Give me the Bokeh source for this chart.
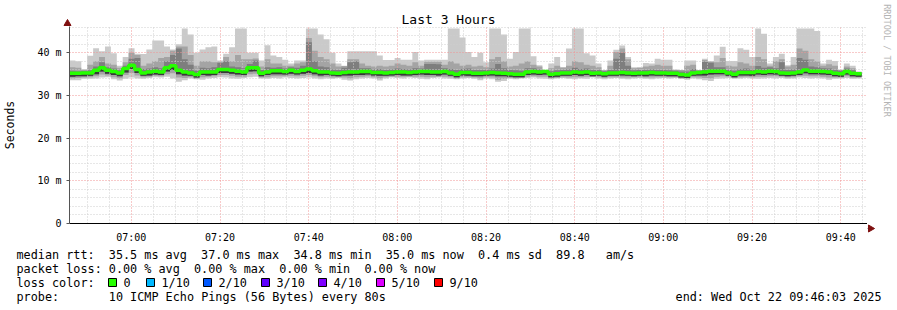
import numpy as np
from bokeh.plotting import figure
from bokeh.models import Range1d, FixedTicker
from bokeh.layouts import column, row
from bokeh.embed import file_html
from bokeh.resources import INLINE
from bokeh.core.properties import value

# ---------------- data ----------------
START_MIN = 6 * 60 + 46 + 3 / 60.0      # 06:46:03, minutes since midnight
STEP_MIN = 80 / 60.0                     # one probe every 80 s
SPAN_MIN = 180.0                         # last 3 hours

med = [35.2, 35.2, 35.3, 35.3, 35.9, 36.5, 35.9, 35.6, 35.3, 36.3,
       37.1, 36.1, 35.3, 35.5, 35.7, 35.5, 36.5, 37.0, 35.9, 35.5,
       35.3, 34.9, 35.5, 35.5, 35.5, 36.1, 36.1, 35.9, 35.7, 35.5,
       36.5, 36.5, 35.2, 35.5, 35.8, 35.8, 35.6, 35.9, 35.6, 35.9,
       36.2, 35.8, 35.5, 35.5, 35.3, 35.2, 35.4, 35.5, 35.5, 35.6,
       35.6, 35.4, 35.4, 35.3, 35.4, 35.5, 35.5, 35.4, 35.5, 35.6,
       35.6, 35.5, 35.5, 35.6, 35.3, 35.0, 35.4, 35.4, 35.2, 35.2,
       35.3, 35.4, 35.3, 35.2, 35.1, 35.0, 35.0, 35.5, 35.6, 35.5,
       35.6, 35.0, 35.1, 35.3, 35.3, 35.5, 35.4, 35.5, 35.2, 35.3,
       35.1, 35.3, 35.3, 35.4, 35.3, 35.2, 35.3, 35.3, 35.4, 35.3,
       35.3, 35.2, 35.2, 34.9, 34.8, 35.3, 35.4, 35.5, 35.7, 35.7,
       35.7, 35.3, 35.0, 35.4, 35.4, 35.4, 35.6, 35.5, 35.7, 35.6,
       35.3, 35.2, 35.3, 35.5, 36.0, 35.7, 35.7, 35.6, 35.5, 35.2,
       35.1, 35.6, 35.2, 35.1]

ping_max = [38.2, 38.0, 36.2, 39.3, 41.1, 40.4, 41.5, 39.9, 37.0, 39.0,
            41.1, 39.8, 39.7, 40.8, 42.9, 42.9, 41.5, 40.8, 42.0, 45.7,
            44.3, 40.0, 40.8, 41.3, 41.5, 38.2, 39.8, 41.3, 45.7, 45.7,
            40.0, 40.0, 38.2, 41.8, 39.4, 39.0, 38.4, 37.5, 38.2, 38.2,
            45.7, 45.7, 44.3, 43.2, 40.0, 37.5, 37.0, 40.4, 40.4, 40.4,
            40.4, 40.4, 39.4, 38.3, 38.3, 38.8, 38.4, 38.4, 40.2, 38.2,
            38.4, 38.4, 38.4, 38.4, 45.7, 45.7, 43.6, 40.2, 39.0, 40.0,
            37.8, 45.7, 45.7, 44.3, 38.6, 40.2, 45.7, 45.7, 39.2, 37.1,
            36.0, 37.5, 39.0, 36.7, 41.0, 45.7, 45.7, 39.9, 39.4, 37.5,
            36.0, 38.2, 40.7, 41.7, 39.0, 36.6, 36.6, 37.6, 37.5, 38.6,
            38.4, 38.4, 36.1, 36.0, 38.2, 38.2, 36.0, 38.6, 38.1, 39.4,
            41.4, 38.1, 38.1, 41.1, 40.7, 39.0, 45.7, 44.5, 37.5, 39.0,
            39.8, 37.1, 39.0, 45.7, 45.7, 45.7, 45.1, 37.5, 38.4, 38.1,
            36.1, 37.5, 37.0, 35.6]

ping_hi2 = [36.6, 36.5, 35.9, 37.2, 38.0, 39.0, 37.5, 37.2, 36.5, 37.8,
            40.0, 39.5, 37.0, 37.5, 38.0, 38.8, 39.0, 40.5, 41.5, 41.5,
            39.5, 37.0, 38.0, 38.0, 37.8, 37.9, 39.0, 38.0, 39.5, 38.5,
            38.5, 38.7, 36.8, 38.5, 37.5, 37.5, 37.0, 37.0, 37.5, 37.8,
            43.5, 40.5, 39.0, 38.5, 37.5, 36.8, 36.9, 38.5, 38.5, 37.5,
            37.0, 36.8, 37.0, 36.8, 37.0, 37.5, 37.2, 37.0, 37.8, 37.0,
            37.9, 37.9, 37.9, 37.2, 38.0, 37.5, 37.0, 37.2, 36.8, 37.0,
            36.6, 38.5, 39.0, 38.0, 36.8, 37.0, 37.5, 38.0, 37.2, 36.8,
            35.9, 36.4, 37.0, 36.5, 37.0, 38.0, 37.8, 37.2, 37.0, 36.6,
            35.9, 37.0, 40.2, 41.0, 38.5, 36.4, 36.5, 36.8, 37.0, 37.2,
            37.0, 37.0, 36.0, 36.0, 37.0, 37.2, 35.9, 38.3, 37.9, 37.8,
            38.8, 37.0, 36.8, 37.8, 37.5, 37.0, 39.0, 38.5, 37.0, 38.0,
            38.5, 36.8, 37.2, 41.0, 40.5, 38.5, 38.0, 37.0, 37.3, 37.0,
            36.0, 36.8, 36.4, 35.5]

ping_hi3 = [35.8, 35.7, 35.8, 35.9, 36.8, 37.8, 36.6, 36.3, 35.9, 37.0,
            38.6, 38.8, 36.2, 36.3, 36.6, 36.4, 38.0, 39.5, 41.0, 38.5,
            37.2, 35.8, 36.5, 36.4, 36.6, 37.6, 38.0, 36.8, 36.6, 36.4,
            37.4, 38.2, 36.0, 36.6, 36.5, 36.6, 36.3, 36.6, 36.5, 37.0,
            42.5, 38.0, 36.8, 36.6, 36.1, 36.0, 36.5, 37.8, 38.0, 36.4,
            36.4, 36.1, 36.2, 36.0, 36.1, 36.3, 36.2, 36.1, 36.4, 36.3,
            37.4, 37.4, 37.3, 36.4, 36.2, 36.0, 36.2, 36.3, 36.0, 36.0,
            36.0, 36.3, 37.4, 36.4, 36.0, 35.9, 35.8, 36.4, 36.4, 36.1,
            35.8, 35.7, 35.9, 36.0, 36.1, 36.5, 36.2, 36.3, 36.0, 36.0,
            35.7, 36.0, 38.6, 40.0, 37.0, 35.9, 36.0, 36.0, 36.1, 36.0,
            36.0, 35.9, 35.8, 35.6, 35.6, 36.2, 35.8, 37.9, 37.7, 36.6,
            36.6, 36.0, 35.8, 36.2, 36.3, 36.1, 36.9, 36.5, 36.6, 36.4,
            37.8, 36.0, 36.1, 38.8, 38.4, 36.8, 36.6, 36.4, 36.3, 36.0,
            35.8, 36.3, 35.9, 35.4]

ping_lo3 = [34.4, 34.5, 34.5, 34.6, 35.0, 35.6, 35.1, 34.8, 34.5, 35.4,
            36.2, 35.3, 34.6, 34.7, 34.9, 34.8, 35.6, 36.0, 35.0, 34.7,
            34.6, 34.2, 34.8, 34.7, 34.8, 35.3, 35.3, 35.1, 34.9, 34.8,
            35.6, 35.7, 34.5, 34.8, 35.0, 35.0, 34.9, 35.1, 34.9, 35.1,
            35.3, 35.0, 34.7, 34.8, 34.6, 34.5, 34.7, 34.7, 34.8, 34.8,
            34.9, 34.7, 34.6, 34.6, 34.7, 34.8, 34.7, 34.7, 34.8, 34.9,
            34.8, 34.8, 34.7, 34.9, 34.6, 34.3, 34.7, 34.6, 34.5, 34.5,
            34.6, 34.7, 34.5, 34.5, 34.4, 34.3, 34.3, 34.8, 34.9, 34.8,
            34.9, 34.3, 34.4, 34.6, 34.6, 34.8, 34.6, 34.8, 34.5, 34.6,
            34.4, 34.6, 34.6, 34.7, 34.6, 34.5, 34.6, 34.5, 34.7, 34.6,
            34.6, 34.5, 34.5, 34.2, 34.1, 34.6, 34.7, 34.7, 34.9, 35.0,
            35.0, 34.6, 34.3, 34.7, 34.7, 34.6, 34.9, 34.8, 35.0, 34.9,
            34.6, 34.5, 34.6, 34.8, 35.2, 35.0, 35.0, 34.9, 34.8, 34.5,
            34.4, 34.9, 34.5, 34.4]

ping_lo2 = [34.0, 34.1, 34.2, 34.3, 34.5, 34.9, 34.7, 34.3, 34.0, 34.8,
            35.3, 34.7, 34.3, 34.4, 34.6, 34.5, 35.0, 35.2, 34.2, 34.1,
            34.3, 33.9, 34.3, 34.4, 34.5, 34.8, 34.8, 34.6, 34.4, 34.4,
            35.0, 35.1, 34.2, 34.3, 34.5, 34.5, 34.5, 34.6, 34.5, 34.6,
            34.8, 34.5, 34.3, 34.4, 34.2, 34.3, 34.2, 34.0, 34.3, 34.4,
            34.5, 34.3, 34.0, 34.3, 34.4, 34.4, 34.4, 34.4, 34.4, 34.4,
            34.3, 34.4, 34.4, 34.4, 34.3, 34.0, 34.3, 34.3, 34.2, 34.0,
            34.3, 34.2, 33.7, 33.9, 34.1, 34.0, 34.1, 34.4, 34.5, 34.4,
            34.4, 34.0, 34.1, 34.3, 34.2, 34.3, 34.3, 34.4, 34.4, 34.3,
            34.1, 34.3, 34.3, 34.2, 34.2, 34.3, 34.3, 34.2, 34.2, 34.3,
            34.3, 34.3, 34.3, 34.0, 33.9, 34.3, 34.2, 34.1, 34.0, 34.4,
            34.5, 34.4, 34.1, 34.3, 34.4, 34.3, 34.4, 34.4, 34.5, 34.5,
            34.4, 34.2, 34.3, 34.5, 34.6, 34.5, 34.5, 34.4, 34.2, 34.2,
            34.2, 34.5, 34.2, 34.2]

ping_min = [33.6, 33.6, 33.9, 33.9, 34.0, 34.2, 34.3, 33.8, 33.5, 33.9,
            34.2, 34.0, 33.9, 34.1, 34.3, 34.2, 34.4, 34.0, 33.2, 33.6,
            34.0, 33.8, 33.7, 34.0, 34.1, 34.3, 34.2, 34.0, 33.9, 34.1,
            34.3, 34.4, 34.0, 33.9, 34.1, 34.0, 34.2, 34.1, 34.0, 34.1,
            34.2, 34.0, 33.8, 34.0, 33.9, 34.1, 33.7, 33.5, 33.8, 34.0,
            34.1, 34.0, 33.5, 34.0, 34.2, 34.1, 34.0, 34.2, 34.1, 33.9,
            33.8, 34.1, 34.2, 34.0, 33.9, 33.8, 34.0, 34.1, 33.9, 33.6,
            34.0, 33.8, 33.2, 33.4, 33.9, 33.8, 34.0, 34.1, 34.2, 34.0,
            33.9, 33.8, 34.0, 34.1, 33.9, 33.8, 34.0, 33.9, 34.2, 34.0,
            33.8, 34.0, 34.1, 33.9, 33.8, 34.0, 34.1, 33.9, 33.8, 34.0,
            34.1, 34.0, 34.1, 33.9, 33.7, 34.0, 33.8, 33.6, 33.4, 33.9,
            34.0, 34.1, 33.9, 34.0, 34.1, 34.0, 33.9, 34.0, 34.1, 34.0,
            34.1, 33.9, 34.0, 34.2, 34.1, 34.0, 34.1, 34.0, 33.7, 33.9,
            34.0, 34.1, 33.9, 34.0]

time_ticks = [420, 440, 460, 480, 500, 520, 540, 560, 580]
time_labels = ["07:00", "07:20", "07:40", "08:00", "08:20", "08:40",
               "09:00", "09:20", "09:40"]
y_ticks = [0, 10, 20, 30, 40]
y_labels = ["0", "10 m", "20 m", "30 m", "40 m"]

rtt_stats = ["35.5 ms avg", "37.0 ms max", "34.8 ms min", "35.0 ms now",
             "0.4 ms sd", "89.8", "am/s"]
loss_stats = ["0.00 % avg", "0.00 % max", "0.00 % min", "0.00 % now"]
loss_labels = ["0", "1/10", "2/10", "3/10", "4/10", "5/10", "9/10"]
loss_colors = ["#26ff00", "#00b8ff", "#0059ff", "#5e00ff", "#7e00ff",
               "#dd00ff", "#ff0000"]
probe_text = "10 ICMP Echo Pings (56 Bytes) every 80s"
end_text = "end: Wed Oct 22 09:46:03 2025"
title_text = "Last 3 Hours"
watermark_text = "RRDTOOL / TOBI OETIKER"

# ---------------- layout constants ----------------
FONT = "DejaVu Sans Mono"
W = 897
FRAME_L = 67
FRAME_W, FRAME_H = 800, 202
LEFT_W = FRAME_L + FRAME_W   # 867: width of title strip + plot column
TOP_H = 26                   # title strip height
MAIN_H = 219                 # plot figure height (frame 202 px + 17 px labels)
LEG_H = 310 - TOP_H - MAIN_H
PX_PER_UNIT = 4.375
X0 = START_MIN
X1 = START_MIN + SPAN_MIN
Y1 = FRAME_H / PX_PER_UNIT
AXIS_Y = TOP_H + FRAME_H     # canvas y of the time axis (228)

n = len(med)
edges = START_MIN + STEP_MIN * np.arange(n + 1)
xs = np.repeat(edges, 2)[1:-1]


def rep(a):
    return np.repeat(np.asarray(a, dtype=float), 2)


def blank(width, height, xr, yr):
    f = figure(width=width, height=height, x_range=xr, y_range=yr,
               output_backend="svg", toolbar_location=None,
               x_axis_location=None, y_axis_location=None,
               min_border=0, min_border_left=0, min_border_right=0,
               min_border_top=0, min_border_bottom=0)
    f.outline_line_color = None
    f.grid.visible = False
    f.background_fill_color = "white"
    f.border_fill_color = "white"
    f.frame_align = False
    return f


# ---------------- title strip ----------------
p_top = blank(LEFT_W, TOP_H, Range1d(0, LEFT_W), Range1d(TOP_H, 0))
p_top.text(x=[448], y=[19], text=[title_text], text_font=value(FONT),
           text_font_size=value("13px"), text_align="center",
           text_baseline="middle", text_color="black")
p_top.segment(x0=[FRAME_L], y0=[22], x1=[FRAME_L], y1=[TOP_H], line_color="#555555",
              line_width=1)
p_top.scatter(x=[FRAME_L], y=[23], marker="triangle", size=7,
              fill_color="#7f1010", line_color="#7f1010")

# ---------------- main plot ----------------
p = figure(width=LEFT_W, height=MAIN_H, x_range=Range1d(X0, X1),
           y_range=Range1d(0, Y1), output_backend="svg",
           toolbar_location=None, min_border_left=FRAME_L,
           min_border_right=0, min_border_top=0,
           min_border_bottom=MAIN_H - FRAME_H)
p.frame_align = False
p.outline_line_color = None
p.background_fill_color = "white"
p.border_fill_color = "white"

p.varea(x=xs, y1=rep(ping_min), y2=rep(ping_max), fill_color="#cacaca", level="image")
p.varea(x=xs, y1=rep(ping_lo2), y2=rep(ping_hi2), fill_color="#a4a4a4", level="image")
p.varea(x=xs, y1=rep(ping_lo3), y2=rep(ping_hi3), fill_color="#7e7e7e", level="image")
p.varea(x=xs, y1=rep(ping_lo3), y2=rep(med), fill_color="#383838", level="image")
p.line(x=xs, y=rep(med), line_color=loss_colors[0], line_width=3.5)

x_minor = [float(m) for m in np.arange(410, 590, 5) if m % 20 != 0]
y_minor = [float(m) for m in np.arange(2, 48, 2) if m % 10 != 0]
p.xaxis.ticker = FixedTicker(ticks=time_ticks, minor_ticks=x_minor)
p.yaxis.ticker = FixedTicker(ticks=y_ticks, minor_ticks=y_minor)
p.xaxis.major_label_overrides = {t: s for t, s in zip(time_ticks, time_labels)}
p.yaxis.major_label_overrides = {t: s for t, s in zip(y_ticks, y_labels)}

for g in (p.xgrid[0], p.ygrid[0]):
    g.grid_line_color = "#f09595"
    g.grid_line_dash = "1 2"
    g.grid_line_width = 1
    g.minor_grid_line_color = "#cfcfcf"
    g.minor_grid_line_dash = "1 2"
    g.minor_grid_line_width = 1

for ax in (p.xaxis[0], p.yaxis[0]):
    ax.major_label_text_font = FONT
    ax.major_label_text_font_size = "10px"
    ax.major_label_text_color = "black"
    ax.minor_tick_line_color = None
    ax.major_tick_in = 0

p.xaxis.axis_line_color = "black"
p.xaxis.major_tick_out = 0
p.xaxis.major_label_standoff = 4

p.yaxis.axis_line_color = "#555555"
p.yaxis.major_tick_line_color = "#555555"
p.yaxis.major_tick_out = 3
p.yaxis.major_label_standoff = 4
p.yaxis.axis_label = "Seconds"
p.yaxis.axis_label_text_font = FONT
p.yaxis.axis_label_text_font_size = "11.5px"
p.yaxis.axis_label_text_font_style = "normal"
p.yaxis.axis_label_text_color = "black"
p.yaxis.axis_label_standoff = 17

# ---------------- right strip (watermark + time-axis arrow) ----------------
p_right = blank(W - LEFT_W, TOP_H + MAIN_H, Range1d(LEFT_W, W), Range1d(TOP_H + MAIN_H, 0))
p_right.text(x=[886], y=[60], text=[watermark_text], angle=-np.pi / 2,
             text_font=value(FONT), text_font_size=value("8.5px"),
             text_align="center", text_baseline="middle", text_color="#b4b4b4")
p_right.segment(x0=[LEFT_W], y0=[AXIS_Y], x1=[LEFT_W + 3], y1=[AXIS_Y], line_color="black",
                line_width=1)
p_right.scatter(x=[LEFT_W + 3], y=[AXIS_Y], marker="triangle", angle=-np.pi / 2, size=7,
                fill_color="#7f1010", line_color="#7f1010")

# ---------------- legend block (pixel coordinates) ----------------
TOP2 = TOP_H + MAIN_H
p2 = blank(W, LEG_H, Range1d(0, W), Range1d(310, TOP2))

CW = 7.1
LX = 16
rows_y = [254, 268, 282, 296]

tx, ty, tt = [], [], []


def put(col, rw, s):
    tx.append(LX + col * CW)
    ty.append(rows_y[rw])
    tt.append(s)


put(0, 0, "median rtt:")
for c, s in zip([13, 26, 39, 52, 65, 76, 83], rtt_stats):
    put(c, 0, s)
put(0, 1, "packet loss:")
for c, s in zip([13, 25, 37, 49], loss_stats):
    put(c, 1, s)
put(0, 2, "loss color:")
box_x = [108, 146, 203, 261, 318, 376, 434]
for bx, s in zip(box_x, loss_labels):
    tx.append(bx + 15)
    ty.append(rows_y[2])
    tt.append(s)
put(0, 3, "probe:")
put(13, 3, probe_text)

p2.text(x=tx, y=ty, text=tt, text_font=value(FONT), text_font_size=value("11.8px"),
        text_baseline="middle", text_align="left", text_color="black")
p2.text(x=[881], y=[rows_y[3]], text=[end_text], text_font=value(FONT),
        text_font_size=value("11.8px"), text_baseline="middle", text_align="right",
        text_color="black")
p2.rect(x=[b + 4 for b in box_x], y=[rows_y[2]] * len(box_x), width=8, height=8,
        fill_color=loss_colors, line_color="black", line_width=1)

layout = column(row(column(p_top, p, spacing=0), p_right, spacing=0), p2, spacing=0)
open("out.html", "w").write(file_html(layout, INLINE))
